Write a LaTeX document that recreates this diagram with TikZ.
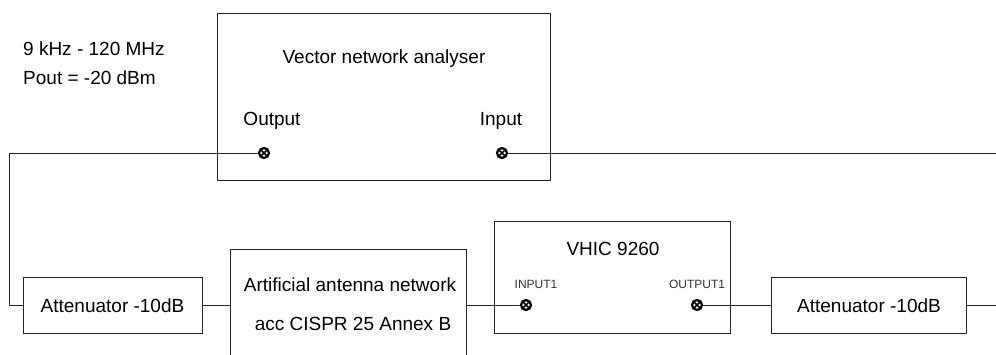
\documentclass[tikz,border=0pt]{standalone}
\usepackage{fontspec}
\setmainfont{Liberation Sans}
\begin{document}
\begin{tikzpicture}[x=1pt,y=-1pt,
  box/.style={draw=black!85, line width=0.9pt, rectangle, inner sep=0pt},
  wire/.style={draw=black!85, line width=0.9pt},
  big/.style={font=\fontsize{19}{23}\selectfont, inner sep=0pt, anchor=base},
  small/.style={font=\fontsize{12}{14}\selectfont, inner sep=0pt, anchor=base, text=black!80},
  jack/.style={circle, draw=black, line width=2.2pt, minimum size=10pt, inner sep=0pt,
    path picture={\draw[line width=1.6pt] (path picture bounding box.north west) -- (path picture bounding box.south east)
      (path picture bounding box.north east) -- (path picture bounding box.south west);}}]
\useasboundingbox (0,0) rectangle (996,354);
\clip (0,0) rectangle (996,354);
% boxes
\node[box, minimum width=333pt, minimum height=167pt] (vna) at (383.5,96.5) {};
\node[box, minimum width=179pt, minimum height=56pt] (att1) at (112.5,305) {};
\node[box, minimum width=236pt, minimum height=120pt] (aan) at (348,309) {};
\node[box, minimum width=236pt, minimum height=112pt] (vhic) at (612,277) {};
\node[box, minimum width=195pt, minimum height=56pt] (att2) at (868.5,305) {};
% texts
\node[big, anchor=base west] (f1) at (23,55) {9 kHz - 120 MHz};
\node[big, anchor=base west] (f2) at (23,84) {Pout = -20 dBm};
\node[big] (vnat) at (384,63) {Vector network analyser};
\node[big] (outl) at (272,125) {Output};
\node[big] (inl) at (501,125) {Input};
\node[big] (att1t) at (112.5,312) {Attenuator -10dB};
\node[big] (aant1) at (350,291) {Artificial antenna network};
\node[big] (aant2) at (353,330) {acc CISPR 25 Annex B};
\node[big] (vhict) at (613,255) {VHIC 9260};
\node[small] (in1l) at (536,288.5) {INPUT1};
\node[small] (out1l) at (697,288.5) {OUTPUT1};
\node[big] (att2t) at (869,312) {Attenuator -10dB};
% connectors
\node[jack] (out) at (264,153) {};
\node[jack] (in) at (502,153) {};
\node[jack] (in1) at (526,305) {};
\node[jack] (out1) at (697,305) {};
\coordinate (c1) at (9,153);
\coordinate (c2) at (996,153);
\coordinate (c3) at (996,305);
% wires
\draw[wire] (out.west) -- (c1) |- (att1.west);
\draw[wire] (in.east) -- (c2);
\draw[wire] (att1.east) -- (att1.east -| aan.west);
\draw[wire] (in1 -| aan.east) -- (in1.west);
\draw[wire] (out1.east) -- (att2.west);
\draw[wire] (att2.east) -- (c3);
\end{tikzpicture}
\end{document}
